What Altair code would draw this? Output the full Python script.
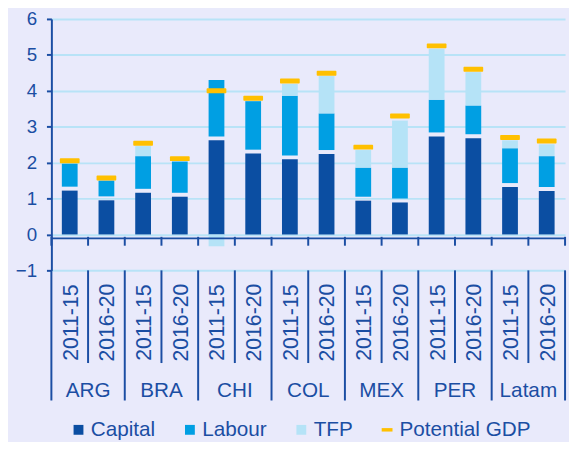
import altair as alt
import pandas as pd

countries = ["ARG", "BRA", "CHI", "COL", "MEX", "PER", "Latam"]
periods = ["2011-15", "2016-20"]
capital = [1.33, 1.06, 1.27, 1.16, 2.73, 2.36, 2.20, 2.35, 1.05, 1.00, 2.84, 2.79, 1.43, 1.32]
labour = [0.64, 0.44, 0.91, 0.87, 1.57, 1.35, 1.66, 1.02, 0.81, 0.86, 0.91, 0.80, 0.97, 0.86]
tfp = [0.00, 0.00, 0.28, 0.00, -0.33, 0.00, 0.33, 1.04, 0.49, 1.31, 1.42, 0.93, 0.22, 0.33]
potential = [2.05, 1.57, 2.54, 2.11, 4.00, 3.79, 4.27, 4.49, 2.43, 3.30, 5.25, 4.60, 2.70, 2.60]

series_names = ["Capital", "Labour", "TFP", "Potential GDP"]
series_colors = ["#0B4EA2", "#009FE3", "#B5E3F7", "#FFC000"]
y_ticks = [-1, 0, 1, 2, 3, 4, 5, 6]

DARK = "#1B4EA3"
BG = "#E9EAFB"
FONT = "Liberation Sans"

keys, key_country, key_period = [], [], []
for c in countries:
    for p in periods:
        keys.append(f"{c} {p}")
        key_country.append(c)
        key_period.append(p)

rows = []
for i, k in enumerate(keys):
    cap, lab, t = capital[i], labour[i], tfp[i]
    rows.append({"key": k, "series": "Capital", "y0": 0.0, "y1": cap})
    rows.append({"key": k, "series": "Labour", "y0": cap, "y1": cap + lab})
    if t > 0:
        rows.append({"key": k, "series": "TFP", "y0": cap + lab, "y1": cap + lab + t})
    elif t < 0:
        rows.append({"key": k, "series": "TFP", "y0": 0.0, "y1": t})
bars_df = pd.DataFrame(rows)
pot_df = pd.DataFrame({"key": keys, "y0": potential})
lab_df = pd.DataFrame({"key": keys, "period": key_period, "country": key_country})
first_df = lab_df[lab_df["period"] == periods[0]]
last_df = lab_df.iloc[[-1]]
zero_df = pd.DataFrame({"y0": [0.0]})

W, H = 521, 255
xscale = alt.Scale(domain=keys, paddingInner=0, paddingOuter=0)
yscale = alt.Scale(domain=[-1, 6], nice=False, zero=False)
yaxis = alt.Axis(
    values=y_ticks, tickCount=8, title=None, grid=True, gridColor="#B8E3F7", gridWidth=2,
    domainColor=DARK, domainWidth=2, tickColor=DARK, tickWidth=2, tickSize=5,
    labelOverlap=False, labelFlush=False, labelBound=False,
    labelFontSize=19, labelColor=DARK, labelFont=FONT, labelPadding=10)


def X(band=0.5):
    return alt.X("key:N", scale=xscale, axis=None, bandPosition=band)


def Y():
    return alt.Y("y0:Q", scale=yscale, axis=yaxis)


legend = alt.Legend(
    title=None, orient="none", legendX=17, legendY=406, direction="horizontal",
    padding=0,
    symbolType={"expr": "datum.label === 'Potential GDP' ? 'M-1.1,-0.35H1.1V0.35H-1.1Z' : 'square'"},
    symbolSize=100, symbolStrokeWidth=0, symbolOpacity=1,
    labelFontSize=21, labelColor=DARK, labelFont=FONT, labelOffset=2,
    columnPadding=24,
)

base_bars = alt.Chart(bars_df).encode(
    x=X(), y=Y(), y2="y1:Q",
    color=alt.Color("series:N", scale=alt.Scale(domain=series_names, range=series_colors), legend=legend),
)
cap_bars = base_bars.transform_filter("datum.series === 'Capital'").mark_bar(size=16, y2Offset=4)
other_bars = base_bars.transform_filter("datum.series !== 'Capital'").mark_bar(size=16)

axis_line = alt.Chart(zero_df).mark_rule(
    color=DARK, strokeWidth=2, yOffset=4).encode(
    y=Y(), x=alt.value(0), x2=alt.value(W))

pot = alt.Chart(pot_df).mark_tick(
    color="#FFC000", size=20, thickness=5, cornerRadius=1, opacity=1).encode(
    x=X(), y=Y())

rule_style = dict(color=DARK, strokeWidth=2)
ticks_a = alt.Chart(lab_df).mark_rule(**rule_style).encode(
    x=X(0), y=alt.value(221), y2=alt.value(230))
ticks_b = alt.Chart(last_df).mark_rule(**rule_style).encode(
    x=X(1), y=alt.value(221), y2=alt.value(230))
group_sep = alt.Chart(first_df).mark_rule(**rule_style).encode(
    x=X(0), y=alt.value(H), y2=alt.value(387))
group_sep_end = alt.Chart(last_df).mark_rule(**rule_style).encode(
    x=X(1), y=alt.value(H), y2=alt.value(387))
inner_sep = alt.Chart(first_df).mark_rule(**rule_style).encode(
    x=X(1), y=alt.value(H), y2=alt.value(349))

period_text = alt.Chart(lab_df).mark_text(
    angle=270, align="center", baseline="middle", fontSize=21.5, font=FONT,
    color=DARK, dy=2).encode(x=X(), y=alt.value(308), text="period:N")
group_text = alt.Chart(first_df).mark_text(
    align="center", baseline="alphabetic", fontSize=21, font=FONT,
    color=DARK).encode(x=X(1), y=alt.value(383), text="country:N")

chart = alt.layer(
    cap_bars, other_bars, axis_line, pot, ticks_a, ticks_b,
    group_sep, group_sep_end, inner_sep, period_text, group_text,
).properties(
    width=W, height=H,
    autosize=alt.AutoSizeParams(type="none"),
    padding={"left": 44, "top": 8, "right": 4, "bottom": 171},
).configure(background=BG, font=FONT).configure_view(stroke=None)

chart.save("out.html", embed_options={"renderer": "svg", "actions": False})
